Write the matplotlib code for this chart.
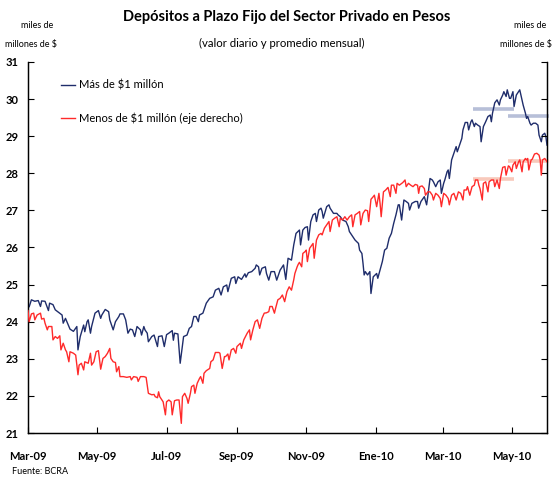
import numpy as np
import pandas as pd
import matplotlib
matplotlib.use("Agg")
import matplotlib.pyplot as plt

plt.rcParams['font.family'] = ['Lato', 'DejaVu Sans']

# ---------- data (days since 1-Mar-2009, miles de millones de $) ----------
start = pd.Timestamp("2009-03-01")

blue_days = [0, 1, 3, 6, 9, 11, 12, 15, 18, 19, 22, 24, 27, 30, 31, 33, 36, 37, 40, 43,
             44, 46, 49, 50, 52, 53, 55, 56, 59, 62, 64, 65, 68, 71, 72, 75, 77, 80, 81, 84,
             86, 88, 90, 92, 94, 96, 99, 100, 102, 103, 105, 106, 109, 111, 114, 115, 118, 120, 122, 124,
             127, 128, 129, 132, 134, 137, 140, 142, 144, 146, 148, 150, 151, 154, 157, 160, 163, 165, 168, 170,
             172, 175, 176, 179, 182, 183, 185, 188, 191, 192, 194, 197, 200, 201, 203, 204, 206, 209, 210, 212,
             214, 217, 219, 222, 225, 227, 229, 232, 234, 236, 239, 240, 242, 244, 246, 247, 249, 251, 253, 254,
             256, 258, 259, 260, 263, 265, 266, 268, 269, 272, 273, 275, 277, 280, 282, 283, 286, 288, 291, 292,
             294, 295, 296, 297, 299, 301, 302, 304, 307, 308, 310, 312, 314, 316, 318, 320, 322, 324, 326, 327,
             329, 331, 333, 335, 336, 338, 341, 343, 344, 346, 349, 351, 352, 354, 356, 357, 359, 361, 363, 364,
             366, 367, 369, 370, 371, 373, 375, 377, 378, 380, 382, 383, 385, 387, 388, 390, 391, 393, 394, 396,
             398, 399, 401, 403, 405, 407, 408, 409, 411, 413, 415, 416, 418, 419, 421, 422, 424, 425, 427, 428,
             430, 432, 433, 435, 436, 438, 439, 440, 442, 443, 445, 447, 449, 450, 452, 453, 455, 456, 457]
blue_vals = [24.45, 24.40, 24.59, 24.55, 24.57, 24.41, 24.56, 24.55, 24.30, 24.50, 24.46, 24.32, 24.25, 24.18, 23.96, 24.09, 23.87, 23.80, 23.74, 23.87,
             23.24, 23.60, 23.91, 23.73, 24.00, 24.05, 23.69, 23.87, 24.23, 24.30, 24.09, 24.18, 24.33, 24.27, 24.05, 23.78, 24.00, 24.14, 24.21, 24.21,
             24.05, 23.69, 23.80, 23.78, 23.60, 23.87, 23.78, 23.64, 23.87, 23.78, 23.69, 23.46, 23.60, 23.64, 23.33, 23.60, 23.62, 23.33, 23.65, 23.69,
             23.76, 23.50, 23.69, 23.67, 22.88, 23.60, 23.64, 23.82, 23.87, 24.14, 24.14, 24.00, 24.18, 24.23, 24.50, 24.63, 24.67, 24.85, 24.90, 24.72,
             24.94, 24.99, 24.81, 25.17, 25.21, 25.03, 25.21, 25.14, 25.29, 25.20, 25.32, 25.35, 25.44, 25.53, 25.48, 25.26, 25.44, 25.48, 25.30, 25.12,
             25.35, 25.35, 25.12, 25.39, 25.53, 25.14, 25.71, 25.66, 26.07, 26.38, 26.47, 26.07, 26.47, 26.54, 26.56, 26.20, 26.70, 26.88, 26.92, 26.70,
             27.01, 27.06, 26.97, 26.79, 27.10, 27.15, 27.06, 26.97, 26.92, 26.92, 26.88, 26.83, 26.74, 26.70, 26.56, 26.43, 26.29, 26.20, 26.11, 25.93,
             25.84, 25.57, 25.26, 25.35, 25.26, 25.35, 24.76, 25.21, 25.30, 25.17, 25.39, 25.62, 25.93, 25.98, 26.25, 26.38, 26.65, 26.88, 27.15, 27.15,
             26.74, 27.28, 27.24, 27.19, 27.01, 27.19, 27.24, 27.24, 27.06, 27.24, 27.37, 27.15, 27.37, 27.86, 27.82, 27.77, 27.64, 27.77, 27.82, 27.46,
             27.73, 27.82, 28.04, 28.09, 27.86, 28.36, 28.54, 28.72, 28.58, 28.76, 28.94, 29.17, 29.37, 29.37, 29.17, 29.39, 29.44, 29.26, 29.35, 29.30,
             29.26, 28.85, 29.26, 29.39, 29.53, 29.57, 29.39, 29.62, 29.90, 29.98, 29.84, 29.98, 30.11, 30.20, 30.07, 30.25, 30.02, 30.02, 30.20, 29.80,
             30.11, 30.20, 30.25, 29.98, 29.84, 29.62, 29.48, 29.53, 29.35, 29.30, 29.35, 29.35, 29.30, 29.03, 28.85, 29.03, 29.08, 28.99, 28.76]

red_days = [0, 1, 3, 5, 6, 8, 11, 12, 14, 15, 17, 18, 21, 22, 24, 26, 28, 29, 31, 33,
            34, 36, 37, 40, 42, 44, 45, 47, 49, 50, 53, 55, 56, 58, 60, 62, 64, 66, 68, 70,
            72, 73, 75, 77, 78, 80, 81, 84, 87, 90, 91, 93, 96, 97, 99, 102, 104, 106, 109, 111,
            112, 114, 115, 116, 119, 121, 122, 124, 126, 127, 129, 131, 133, 135, 136, 138, 140, 141, 143, 144,
            146, 147, 149, 151, 152, 154, 155, 157, 160, 161, 163, 165, 168, 169, 171, 173, 174, 176, 177, 179,
            181, 183, 184, 187, 188, 190, 193, 195, 196, 198, 200, 202, 204, 206, 208, 210, 212, 213, 215, 217,
            218, 220, 222, 224, 226, 228, 230, 232, 234, 235, 237, 238, 239, 241, 242, 244, 245, 246, 248, 251,
            252, 254, 256, 258, 259, 261, 263, 265, 266, 268, 270, 272, 274, 275, 277, 279, 281, 283, 285, 286,
            288, 290, 292, 293, 295, 297, 299, 300, 302, 304, 305, 307, 309, 310, 311, 313, 315, 317, 319, 320,
            322, 324, 325, 327, 330, 332, 333, 335, 337, 339, 341, 343, 344, 345, 347, 349, 350, 352, 354, 356,
            357, 359, 361, 363, 364, 366, 368, 370, 371, 373, 375, 377, 379, 381, 383, 384, 386, 387, 389, 391,
            393, 394, 396, 397, 398, 400, 401, 403, 405, 406, 408, 410, 411, 413, 415, 416, 418, 420, 421, 423,
            424, 426, 427, 429, 430, 432, 433, 435, 436, 438, 439, 440, 441, 443, 444, 446, 448, 450, 451, 452,
            453, 455, 456, 457]
red_vals = [24.30, 24.00, 24.21, 24.23, 24.05, 24.18, 24.23, 24.07, 24.09, 23.96, 23.78, 23.87, 23.87, 23.51, 23.60, 23.55, 23.62, 23.24, 23.42, 23.24,
            23.19, 22.92, 23.19, 23.15, 23.10, 22.57, 22.83, 22.88, 22.70, 22.92, 22.88, 23.15, 22.83, 22.92, 23.19, 23.22, 22.72, 23.01, 23.06, 23.15,
            23.28, 23.01, 22.92, 22.90, 22.65, 22.79, 22.52, 22.52, 22.50, 22.52, 22.43, 22.52, 22.50, 22.39, 22.52, 22.52, 22.50, 22.07, 22.03, 22.04,
            21.98, 21.95, 22.11, 21.98, 21.84, 21.49, 21.84, 21.89, 21.84, 21.49, 21.87, 21.89, 21.89, 21.26, 21.98, 22.07, 21.93, 21.80, 22.07, 22.25,
            22.29, 22.07, 22.34, 22.47, 22.52, 22.34, 22.61, 22.68, 22.74, 22.92, 22.97, 23.17, 23.17, 23.15, 22.74, 23.06, 23.06, 23.13, 22.97, 23.24,
            23.28, 23.15, 23.33, 23.42, 23.28, 23.51, 23.69, 23.78, 23.51, 23.78, 24.00, 24.05, 23.82, 24.09, 24.23, 24.24, 24.27, 24.41, 24.41, 24.23,
            24.36, 24.59, 24.63, 24.72, 24.54, 24.81, 24.94, 24.85, 25.13, 25.30, 25.48, 25.55, 25.60, 25.48, 25.84, 25.89, 25.93, 25.62, 25.98, 26.11,
            25.71, 26.20, 26.34, 26.38, 26.34, 26.52, 26.61, 26.70, 26.43, 26.74, 26.79, 26.83, 26.56, 26.79, 26.74, 26.83, 26.74, 26.83, 26.88, 26.56,
            26.88, 26.92, 26.97, 26.61, 26.92, 27.01, 26.99, 26.70, 27.30, 27.37, 27.41, 27.10, 27.46, 27.19, 26.83, 27.50, 27.55, 27.62, 27.37, 27.68,
            27.68, 27.46, 27.73, 27.68, 27.75, 27.82, 27.64, 27.73, 27.68, 27.64, 27.70, 27.68, 27.46, 27.64, 27.66, 27.59, 27.41, 27.50, 27.50, 27.41,
            27.28, 27.46, 27.41, 27.32, 27.10, 27.46, 27.41, 27.32, 27.15, 27.41, 27.46, 27.28, 27.50, 27.46, 27.28, 27.55, 27.55, 27.64, 27.41, 27.64,
            27.68, 27.82, 27.82, 27.68, 27.59, 27.28, 27.73, 27.77, 27.50, 27.77, 27.82, 27.82, 27.64, 27.82, 27.59, 27.86, 28.16, 28.18, 27.95, 28.20,
            28.18, 28.04, 28.22, 28.31, 28.13, 28.31, 28.36, 28.04, 28.31, 28.40, 28.36, 28.40, 28.09, 28.36, 28.38, 28.52, 28.54, 28.49, 28.36, 27.95,
            28.36, 28.40, 28.36, 28.31]

# monthly averages (Apr-10, May-10)
avg_start = ["2010-03-28", "2010-04-28"]
avg_end = ["2010-05-03", "2010-06-03"]
blue_avg = [29.73, 29.55]
red_avg = [27.84, 28.32]

tick_dates = ["2009-03-01", "2009-05-01", "2009-07-01", "2009-09-01",
              "2009-11-01", "2010-01-01", "2010-03-01", "2010-05-01"]
tick_labels = ["Mar-09", "May-09", "Jul-09", "Sep-09", "Nov-09", "Ene-10", "Mar-10", "May-10"]

blue_dates = start + pd.to_timedelta(blue_days, unit="D")
red_dates = start + pd.to_timedelta(red_days, unit="D")

BLUE = "#1f2d6b"
RED = "#ff2a2a"

fig = plt.figure(figsize=(5.54, 4.78), dpi=100)
ax = fig.add_axes([28 / 554, 45 / 478, 519 / 554, 371 / 478])
ax2 = ax.twinx()

# ---------- monthly average bars first so the daily lines sit on top ----------
for s, e, b, r in zip(avg_start, avg_end, blue_avg, red_avg):
    ax.plot([pd.Timestamp(s), pd.Timestamp(e)], [b, b], color="#b7bfd8", lw=2.6,
            solid_capstyle="butt", zorder=1, clip_on=False)
    ax2.plot([pd.Timestamp(s), pd.Timestamp(e)], [r, r], color="#f8c9bb", lw=2.6,
             solid_capstyle="butt", zorder=1, clip_on=False)

l1, = ax.plot(blue_dates, blue_vals, color=BLUE, lw=1.0, zorder=3, label="Más de $1 millón")
l2, = ax2.plot(red_dates, red_vals, color=RED, lw=1.0, zorder=3,
               label="Menos de $1 millón (eje derecho)")

ax.set_xlim(start, pd.Timestamp("2010-06-01"))
ax.set_ylim(21, 31)
ax2.set_ylim(21, 31)
ax.set_yticks(range(21, 32))
ax2.set_yticks(range(21, 32))
ax2.set_yticklabels([])

ax.set_xticks(pd.to_datetime(tick_dates))
ax.set_xticklabels(tick_labels, fontweight="bold", fontsize=8)
for lab in ax.get_yticklabels():
    lab.set_fontweight("bold")
    lab.set_fontsize(8)

ax.tick_params(axis="x", direction="in", length=4, pad=13, width=0.8)
ax.tick_params(axis="y", direction="in", length=4, pad=7, width=0.8)
ax2.tick_params(axis="y", direction="in", length=4, width=0.8)

for a in (ax, ax2):
    a.spines["top"].set_visible(False)
    for sp in ("left", "right", "bottom"):
        a.spines[sp].set_linewidth(0.9)

ax.legend(handles=[l1, l2], loc="upper left", bbox_to_anchor=(0.045, 0.98),
          frameon=False, fontsize=8, handlelength=1.2, handletextpad=0.4,
          labelspacing=2.0)

fig.text(287 / 554, 1 - 17 / 478, "Depósitos a Plazo Fijo del Sector Privado en Pesos",
         ha="center", va="center", fontsize=10.5, fontweight="bold")
fig.text(282 / 554, 1 - 43 / 478, "(valor diario y promedio mensual)",
         ha="center", va="center", fontsize=8.2)
fig.text(37 / 554, 1 - 26 / 478, "miles de", ha="center", va="center", fontsize=6.5)
fig.text(31 / 554, 1 - 45 / 478, "millones de $", ha="center", va="center", fontsize=6.5)
fig.text(530 / 554, 1 - 26 / 478, "miles de", ha="center", va="center", fontsize=6.5)
fig.text(552 / 554, 1 - 45 / 478, "millones de $", ha="right", va="center", fontsize=6.5)
fig.text(12 / 554, 1 - 472 / 478, "Fuente: BCRA", ha="left", va="center", fontsize=6.5)

fig.savefig("out.png", dpi=100)
